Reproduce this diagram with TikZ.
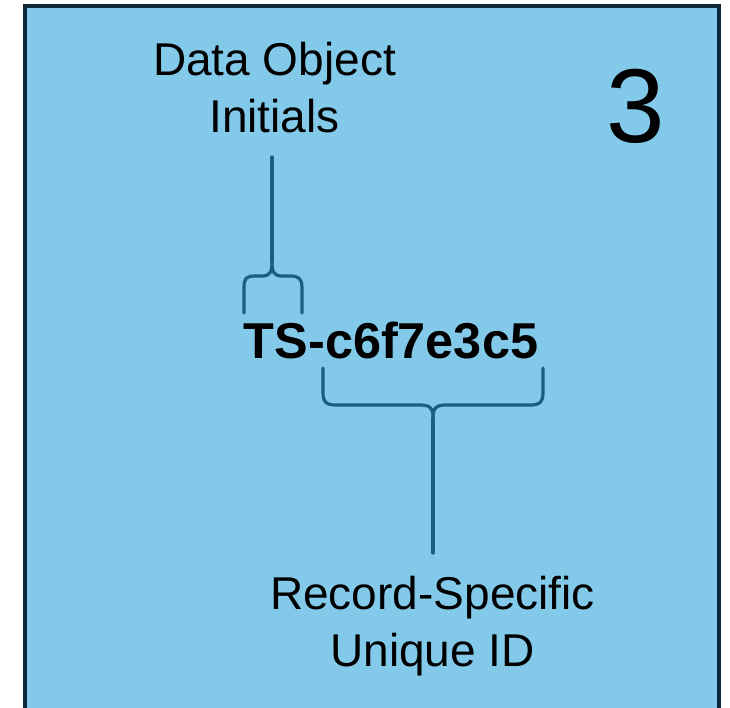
\documentclass[tikz,border=0pt]{standalone}
\usepackage{fontspec}
\setmainfont{Liberation Sans}
\usepackage{tikz}
\definecolor{cardfill}{HTML}{83CAEA}
\definecolor{carddraw}{HTML}{0D2939}
\definecolor{bracecol}{HTML}{1A5E83}
\tikzset{
  lbl/.style={align=center,inner sep=0pt,anchor=base,font=\fontsize{46}{57}\selectfont},
  brc/.style={draw=bracecol,line width=3.2pt,line cap=round}
}

\begin{document}
\begin{tikzpicture}[x=1pt,y=-1pt]
      \useasboundingbox (0,0) rectangle (730,707);
      \draw[fill=cardfill,draw=carddraw,line width=4pt] (25,6.3) rectangle (719,716);

      \node[lbl] (1) at (274.5,132) {Data Object\\Initials};
      \node[anchor=base,inner sep=0pt,font=\bfseries\fontsize{50.4}{60}\selectfont] (2) at (391,358) {TS-c6f7e3c5};
      \node[lbl] (3) at (432.5,666) {Record-Specific\\Unique ID};
      \node[anchor=base,inner sep=0pt,font=\fontsize{105}{120}\selectfont] (4) at (635.5,142) {3};

      \coordinate (t1) at (272,262);
      \coordinate (s1) at (272,157);
      \coordinate (t2) at (433,418);
      \coordinate (s2) at (433,553);

      \draw[brc] (244,313) -- (244,288) .. controls (244,278) and (246,276) .. (256,276) -- (262,276)
        .. controls (270,276) and (272,272) .. (t1)
        .. controls (272,272) and (274,276) .. (282,276) -- (290,276)
        .. controls (298,276) and (302,278) .. (302,288) -- (302,313);
      \draw[brc] (t1) -- (s1);

      \draw[brc] (323,368) -- (323,392) .. controls (323,402) and (326,405) .. (336,405) -- (420,405)
        .. controls (430,405) and (433,408) .. (t2)
        .. controls (433,408) and (436,405) .. (446,405) -- (530,405)
        .. controls (540,405) and (543,402) .. (543,392) -- (543,368);
      \draw[brc] (t2) -- (s2);
    \end{tikzpicture}
\end{document}
